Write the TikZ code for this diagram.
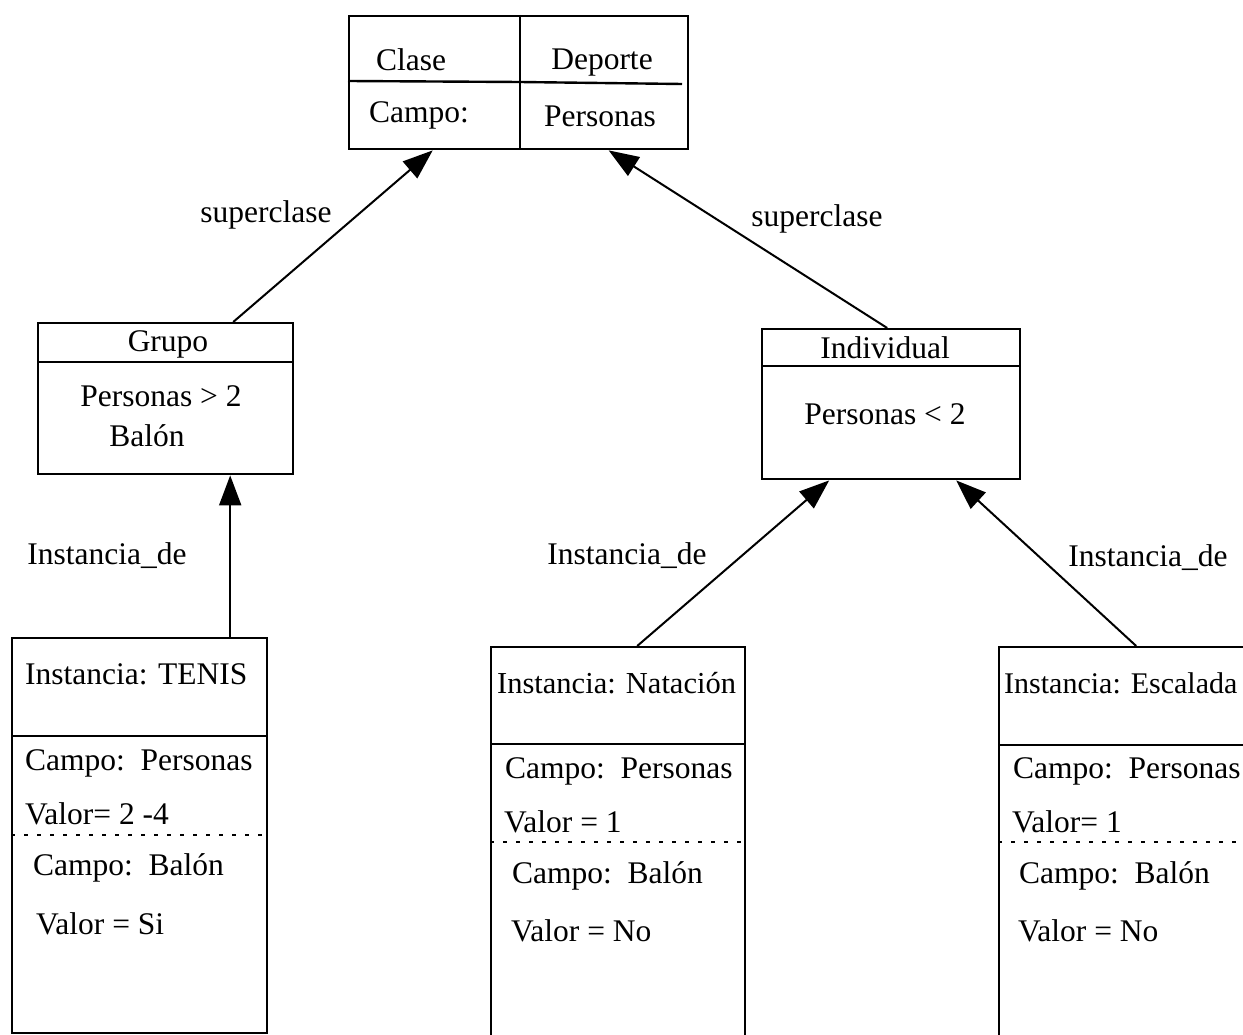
\documentclass[tikz,border=0pt]{standalone}
\usepackage{fontspec}
\setmainfont{Liberation Serif}
\usetikzlibrary{arrows.meta}
\begin{document}
\begin{tikzpicture}[x=1pt,y=-1pt,
  box/.style={draw,line width=2.4pt,rectangle,anchor=north west,inner sep=0pt},
  txt/.style={inner sep=0pt,font=\fontsize{31.5}{37}\selectfont},
  ltxt/.style={txt,anchor=west},
  sep/.style={line width=2.4pt},
  dots/.style={line width=1.8pt,dash pattern=on 4pt off 9pt},
  arr/.style={line width=2pt,-{Triangle[length=30pt,width=22pt]}}]
\useasboundingbox (0,0) rectangle (1243,1035);
\clip (0,0) rectangle (1243,1035);

% class Deporte
\node[box,minimum width=339pt,minimum height=133pt] (clase) at (348,15) {};
\draw[sep] (520,15) -- (520,148);
\draw[sep] (348,81) -- (520,82) -- (682,84);
\node[txt] (c1) at (411,60) {Clase};
\node[txt] (c2) at (602,63) {Deporte};
\node[txt] (c3) at (419,115) {Campo:};
\node[txt] (c4) at (600,116) {Personas};

% subclass Grupo
\node[box,minimum width=255pt,minimum height=151pt] (grupo) at (37,322) {};
\draw[sep] (37,362) -- (292,362);
\node[txt] (g1) at (168,344) {Grupo};
\node[txt] (g2) at (161,396) {Personas > 2};
\node[txt] (g3) at (147,436) {Balón};

% subclass Individual
\node[box,minimum width=258pt,minimum height=150pt] (indiv) at (761,328) {};
\draw[sep] (761,366) -- (1019,366);
\node[txt] (i1) at (885,348) {Individual};
\node[txt] (i2) at (885,414) {Personas < 2};

% instance TENIS
\node[box,minimum width=255pt,minimum height=395pt] (tenis) at (11,637) {};
\draw[sep] (11,736) -- (266,736);
\draw[dots] (11,835) -- (264,835);
\node[ltxt] (t1) at (25,674) {Instancia: TENIS};
\node[ltxt] (t2) at (25,763) {Campo:\ \ Personas};
\node[ltxt] (t3) at (25,814) {Valor= 2 -4};
\node[ltxt] (t4) at (33,868) {Campo:\ \ Balón};
\node[ltxt] (t5) at (36,924) {Valor = Si};

% instance Natacion
\node[box,minimum width=254pt,minimum height=420pt] (natac) at (490,646) {};
\draw[sep] (490,744) -- (744,744);
\draw[dots] (490,842) -- (742,842);
\node[ltxt,font=\fontsize{30.5}{37}\selectfont] (n1) at (497,683) {Instancia: Natación};
\node[ltxt] (n2) at (505,771) {Campo:\ \ Personas};
\node[ltxt] (n3) at (504,822) {Valor = 1};
\node[ltxt] (n4) at (512,876) {Campo:\ \ Balón};
\node[ltxt] (n5) at (511,931) {Valor = No};

% instance Escalada
\node[box,minimum width=257pt,minimum height=420pt] (escal) at (998,646) {};
\draw[sep] (998,745) -- (1255,745);
\draw[dots] (998,842) -- (1243,842);
\node[ltxt,font=\fontsize{30}{37}\selectfont] (e1) at (1004,683) {Instancia: Escalada};
\node[ltxt] (e2) at (1013,771) {Campo:\ \ Personas};
\node[ltxt] (e3) at (1012,822) {Valor= 1};
\node[ltxt] (e4) at (1019,876) {Campo:\ \ Balón};
\node[ltxt] (e5) at (1018,931) {Valor = No};

% connectors
\draw[arr] ([xshift=67.5pt]grupo.north) -- ([xshift=-86pt]clase.south);
\draw[arr] ([xshift=-4pt]indiv.north) -- ([xshift=90pt]clase.south);
\draw[arr] ([xshift=90.5pt]tenis.north) -- ([xshift=64.5pt]grupo.south);
\draw[arr] ([xshift=19pt]natac.north) -- ([xshift=-62pt]indiv.south);
\draw[arr] ([xshift=8.5pt]escal.north) -- ([xshift=65pt]indiv.south);

% connector labels
\node[txt] (l1) at (266,215) {superclase};
\node[txt] (l2) at (817,219) {superclase};
\node[txt] (l3) at (107,556) {Instancia\_de};
\node[txt] (l4) at (627,556) {Instancia\_de};
\node[txt] (l5) at (1148,558) {Instancia\_de};
\end{tikzpicture}
\end{document}
